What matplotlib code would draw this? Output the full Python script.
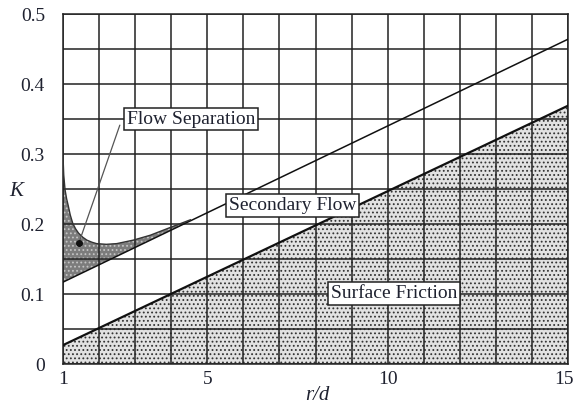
import numpy as np
import matplotlib
matplotlib.use("Agg")
import matplotlib.pyplot as plt
import matplotlib.transforms as mtransforms

plt.rcParams['font.family'] = ['Liberation Serif', 'DejaVu Serif']
plt.rcParams['hatch.linewidth'] = 0.8

# straight lines: K at r/d = 1 and r/d = 15
line_x = [1, 15]
friction_k = [0.027, 0.369]
secondary_k = [0.117, 0.464]

# flow separation curve
sep_x = [1.0, 1.02, 1.056, 1.1, 1.15, 1.2, 1.27, 1.35, 1.43, 1.55, 1.66, 1.8,
         1.93, 2.2, 2.49, 2.95, 3.42, 3.97, 4.53]
sep_k = [0.296, 0.27, 0.249, 0.236, 0.225, 0.213, 0.201, 0.193, 0.187, 0.181,
         0.177, 0.174, 0.172, 0.171, 0.172, 0.177, 0.184, 0.195, 0.206]

x_ticks = [1, 5, 10, 15]
y_ticks = [0, 0.1, 0.2, 0.3, 0.4, 0.5]
y_tick_labels = ['0', '0.1', '0.2', '0.3', '0.4', '0.5']

# label boxes (text, x, K)
labels = [("Flow Separation", 4.55, 0.35),
          ("Secondary Flow", 7.36, 0.226),
          ("Surface Friction", 10.17, 0.101)]
sep_pointer = (1.44, 0.173)
sep_pointer_from = (2.6, 0.345)

txt_color = '#1f2230'

fig = plt.figure(figsize=(5.75, 4.05), dpi=100)
ax = fig.add_axes([0.1096, 0.1012, 0.8782, 0.8642])

xs = np.linspace(1, 15, 200)
fric = np.interp(xs, line_x, friction_k)
sec_on_sep = np.interp(sep_x, line_x, secondary_k)

# shaded regions
ax.fill_between(xs, 0, fric, facecolor='#e2e2e2', edgecolor='#333333',
                hatch='....', linewidth=0, zorder=1)
ax.fill_between(sep_x, sec_on_sep, sep_k, facecolor='#7c7c7c', edgecolor='#c4c4c4',
                hatch='....', linewidth=0, zorder=1)

# grid on top of fills
ax.set_xlim(1, 15)
ax.set_ylim(0, 0.5)
ax.set_xticks(x_ticks)
ax.set_xticks(np.arange(1, 16), minor=True)
ax.set_yticks(y_ticks)
ax.set_yticklabels(y_tick_labels)
ax.set_yticks(np.arange(0, 0.51, 0.05), minor=True)
ax.grid(True, which='both', color='#222222', linewidth=1.1, zorder=2)
ax.set_axisbelow(False)
ax.tick_params(which='both', length=0)
ax.tick_params(axis='y', pad=13, labelsize=14, labelcolor=txt_color)
ax.tick_params(axis='x', pad=5, labelsize=14, labelcolor=txt_color)
for s in ax.spines.values():
    s.set_color('#222222')
    s.set_linewidth(1.1)

# last x label sits at the figure edge; pull it in a little so it isn't clipped
last = ax.get_xticklabels()[-1]
last.set_transform(last.get_transform() +
                   mtransforms.ScaledTranslation(-4 / 100, 0, fig.dpi_scale_trans))

# curves
ax.plot(line_x, friction_k, color='#111111', linewidth=1.6, zorder=3)
ax.plot(line_x, secondary_k, color='#111111', linewidth=1.1, zorder=3)
ax.plot(sep_x, sep_k, color='#333333', linewidth=1.0, zorder=3)

# pointer for flow separation
ax.annotate("", xy=sep_pointer, xytext=sep_pointer_from,
            arrowprops=dict(arrowstyle='-', color='#555555', lw=0.9), zorder=4)
ax.plot(*sep_pointer, 'o', color='#111111', markersize=4, zorder=4)

for txt, lx, ly in labels:
    ax.text(lx, ly, txt, fontsize=14, color=txt_color, ha='center', va='center', zorder=5,
            bbox=dict(boxstyle='square,pad=0.15', facecolor='white', edgecolor='#222222',
                      linewidth=1.1))

ax.text(-0.093, 0.494, "K", transform=ax.transAxes, fontsize=15, style='italic',
        color=txt_color, ha='center', va='center')
ax.text(0.503, -0.091, "r/d", transform=ax.transAxes, fontsize=15, style='italic',
        color=txt_color, ha='center', va='center')

fig.savefig("out.png", dpi=100)
